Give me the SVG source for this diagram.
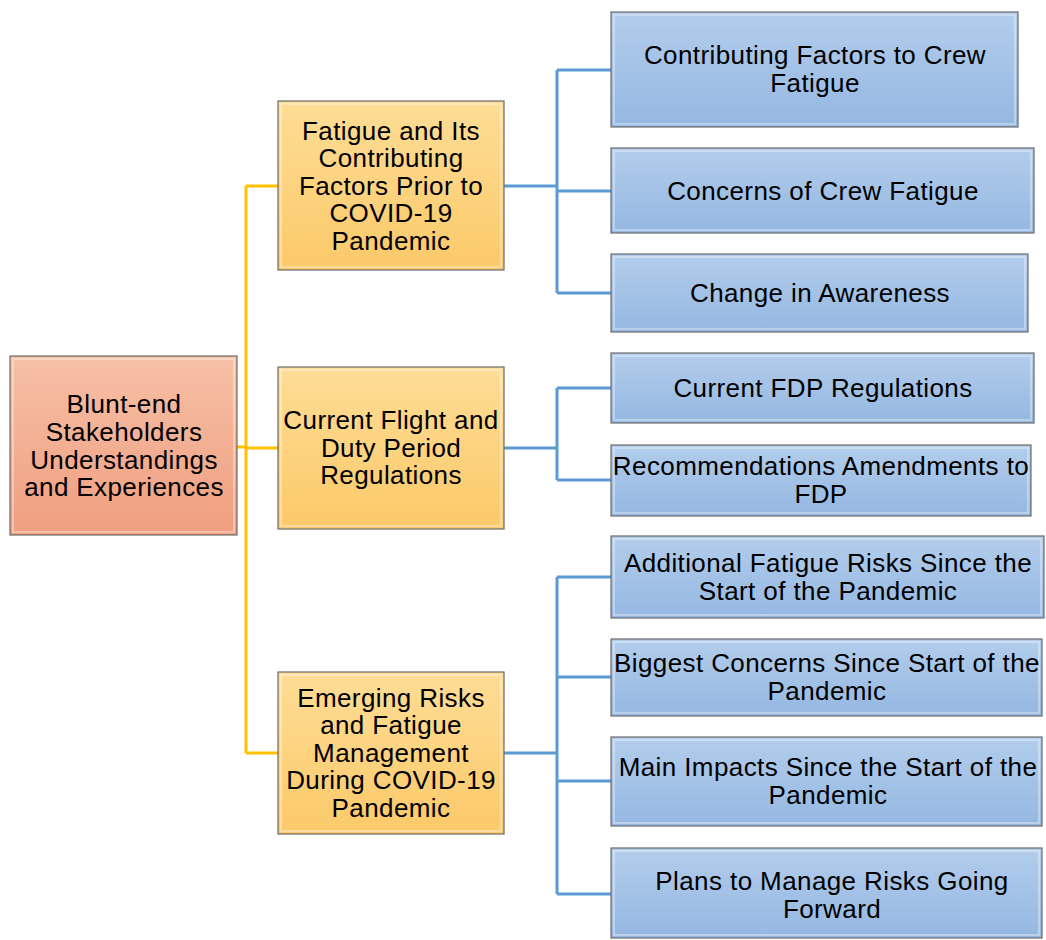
<svg xmlns="http://www.w3.org/2000/svg" width="1046" height="940" viewBox="0 0 1046 940">
  <defs>
    <linearGradient id="gRoot" x1="0" y1="0" x2="0" y2="1">
      <stop offset="0" stop-color="#f6c0a6"/>
      <stop offset="1" stop-color="#f09e80"/>
    </linearGradient>
    <linearGradient id="gMid" x1="0" y1="0" x2="0" y2="1">
      <stop offset="0" stop-color="#fedd96"/>
      <stop offset="1" stop-color="#fbc969"/>
    </linearGradient>
    <linearGradient id="gLeaf" x1="0" y1="0" x2="0" y2="1">
      <stop offset="0" stop-color="#b3cdec"/>
      <stop offset="1" stop-color="#94b7e1"/>
    </linearGradient>
  </defs>
  <style>
    .box { stroke: #6b6b6b; stroke-width: 1.2; }
    .root { fill: url(#gRoot); }
    .mid { fill: url(#gMid); }
    .leaf { fill: url(#gLeaf); }
    .shine { fill: none; stroke: #ffffff; stroke-opacity: 0.35; stroke-width: 2; }
    .lbl { font-family: "Liberation Sans", Arial, sans-serif; font-size: 26px; letter-spacing: 0.4px; fill: #000; text-anchor: middle; }
    .cy { fill: none; stroke: #ffc000; stroke-width: 3; }
    .cb { fill: none; stroke: #5b9bd5; stroke-width: 3; }
  </style>

  <rect width="1046" height="940" fill="#ffffff"/>

  <g id="connectors">
    <path class="cy" d="M237 447 H246 M246 186 V753 M246 186 H278 M246 448 H278 M246 753 H278"/>
    <path class="cb" d="M504 186 H557 M557 70 V293 M557 70 H611 M557 191 H611 M557 293 H611"/>
    <path class="cb" d="M504 448 H557 M557 388 V480 M557 388 H611 M557 480 H611"/>
    <path class="cb" d="M504 753 H557 M557 577 V894 M557 577 H611 M557 677 H611 M557 781 H611 M557 894 H611"/>
  </g>

  <g id="root">
    <rect class="box root" x="10" y="356" width="227" height="179"/>
    <rect class="shine" x="13" y="359" width="221" height="173"/>
    <text class="lbl"><tspan x="124" y="413">Blunt-end</tspan><tspan x="124" y="441">Stakeholders</tspan><tspan x="124" y="469">Understandings</tspan><tspan x="124" y="496">and Experiences</tspan></text>
  </g>

  <g id="mid-fatigue">
    <rect class="box mid" x="278" y="101" width="226" height="169"/>
    <rect class="shine" x="281" y="104" width="220" height="163"/>
    <text class="lbl"><tspan x="391" y="140">Fatigue and Its</tspan><tspan x="391" y="167">Contributing</tspan><tspan x="391" y="195">Factors Prior to</tspan><tspan x="391" y="222">COVID-19</tspan><tspan x="391" y="250">Pandemic</tspan></text>
  </g>

  <g id="mid-regulations">
    <rect class="box mid" x="278" y="367" width="226" height="162"/>
    <rect class="shine" x="281" y="370" width="220" height="156"/>
    <text class="lbl"><tspan x="391" y="429">Current Flight and</tspan><tspan x="391" y="457">Duty Period</tspan><tspan x="391" y="484">Regulations</tspan></text>
  </g>

  <g id="mid-emerging">
    <rect class="box mid" x="278" y="672" width="226" height="162"/>
    <rect class="shine" x="281" y="675" width="220" height="156"/>
    <text class="lbl"><tspan x="391" y="707">Emerging Risks</tspan><tspan x="391" y="734">and Fatigue</tspan><tspan x="391" y="762">Management</tspan><tspan x="391" y="789">During COVID-19</tspan><tspan x="391" y="817">Pandemic</tspan></text>
  </g>

  <g id="leaf-contributing">
    <rect class="box leaf" x="611" y="12" width="407" height="115"/>
    <rect class="shine" x="614" y="15" width="401" height="109"/>
    <text class="lbl"><tspan x="815" y="64">Contributing Factors to Crew</tspan><tspan x="815" y="92">Fatigue</tspan></text>
  </g>

  <g id="leaf-concerns">
    <rect class="box leaf" x="611" y="148" width="423" height="85"/>
    <rect class="shine" x="614" y="151" width="417" height="79"/>
    <text class="lbl" x="823" y="200">Concerns of Crew Fatigue</text>
  </g>

  <g id="leaf-awareness">
    <rect class="box leaf" x="611" y="254" width="417" height="78"/>
    <rect class="shine" x="614" y="257" width="411" height="72"/>
    <text class="lbl" x="820" y="302">Change in Awareness</text>
  </g>

  <g id="leaf-fdp">
    <rect class="box leaf" x="611" y="353" width="423" height="70"/>
    <rect class="shine" x="614" y="356" width="417" height="64"/>
    <text class="lbl" x="823" y="397">Current FDP Regulations</text>
  </g>

  <g id="leaf-amendments">
    <rect class="box leaf" x="611" y="445" width="420" height="71"/>
    <rect class="shine" x="614" y="448" width="414" height="65"/>
    <text class="lbl"><tspan x="821" y="475">Recommendations Amendments to</tspan><tspan x="821" y="503">FDP</tspan></text>
  </g>

  <g id="leaf-additional">
    <rect class="box leaf" x="611" y="536" width="433" height="82"/>
    <rect class="shine" x="614" y="539" width="427" height="76"/>
    <text class="lbl"><tspan x="828" y="572">Additional Fatigue Risks Since the</tspan><tspan x="828" y="600">Start of the Pandemic</tspan></text>
  </g>

  <g id="leaf-biggest">
    <rect class="box leaf" x="611" y="639" width="431" height="77"/>
    <rect class="shine" x="614" y="642" width="425" height="71"/>
    <text class="lbl"><tspan x="827" y="672">Biggest Concerns Since Start of the</tspan><tspan x="827" y="700">Pandemic</tspan></text>
  </g>

  <g id="leaf-impacts">
    <rect class="box leaf" x="611" y="737" width="431" height="89"/>
    <rect class="shine" x="614" y="740" width="425" height="83"/>
    <text class="lbl"><tspan x="828" y="776">Main Impacts Since the Start of the</tspan><tspan x="828" y="804">Pandemic</tspan></text>
  </g>

  <g id="leaf-plans">
    <rect class="box leaf" x="611" y="848" width="431" height="90"/>
    <rect class="shine" x="614" y="851" width="425" height="84"/>
    <text class="lbl"><tspan x="832" y="890">Plans to Manage Risks Going</tspan><tspan x="832" y="918">Forward</tspan></text>
  </g>
</svg>
